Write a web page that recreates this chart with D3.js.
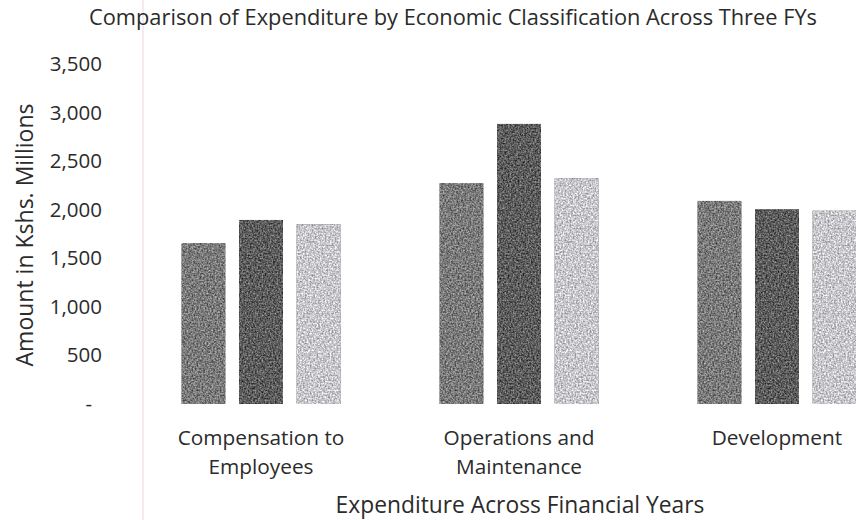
<!DOCTYPE html>
<html>
<head>
<meta charset="utf-8">
<script src="https://cdn.jsdelivr.net/npm/d3@7"></script>
<style>
  body { margin: 0; background: #fff; }
  text { font-family: "Open Sans", "Noto Sans", sans-serif; fill: #2b2b2b; }
</style>
</head>
<body>
<div id="app"></div>
<script>
const categories = ['Compensation to Employees', 'Operations and Maintenance', 'Development'];
const years = ['FY 1', 'FY 2', 'FY 3'];
const fy1 = [1655, 2273, 2091];
const fy2 = [1895, 2884, 2005];
const fy3 = [1851, 2324, 1991];
const yTicks = [0, 500, 1000, 1500, 2000, 2500, 3000, 3500];

function render() {
  const width = 856;
  const height = 520;
  const margin = { left: 132, top: 64 };
  const groupWidth = 258;
  const colors = ['#7a7a7a', '#5c5c5c', '#c8c8cc'];

  const svg = d3.select('#app').append('svg').attr('width', width).attr('height', height);

  // grainy scanned look
  const f = svg.append('defs').append('filter').attr('id', 'grain')
    .attr('x', 0).attr('y', 0).attr('width', 1).attr('height', 1)
    .attr('color-interpolation-filters', 'sRGB');
  f.append('feTurbulence').attr('type', 'fractalNoise').attr('baseFrequency', 0.6)
    .attr('numOctaves', 2).attr('seed', 3).attr('result', 'noise');
  f.append('feColorMatrix').attr('in', 'noise').attr('type', 'matrix')
    .attr('values', '1 0 0 0 0  1 0 0 0 0  1 0 0 0 0  0 0 0 0 1').attr('result', 'gn');
  f.append('feComposite').attr('in', 'SourceGraphic').attr('in2', 'gn').attr('operator', 'arithmetic')
    .attr('k1', 0).attr('k2', 1).attr('k3', 0.75).attr('k4', -0.375).attr('result', 'mix');
  f.append('feComposite').attr('in', 'mix').attr('in2', 'SourceGraphic').attr('operator', 'in');

  // faint scan line
  svg.append('line').attr('x1', 143).attr('x2', 143).attr('y1', 0).attr('y2', height)
    .attr('stroke', '#f2dbe6').attr('stroke-width', 1.2);

  const x0 = d3.scaleBand(categories, [margin.left, margin.left + groupWidth * 3]);
  const x1 = d3.scaleBand(years, [0, groupWidth]).paddingInner(0.235).paddingOuter(0.86);
  const y = d3.scaleLinear([0, 3500], [404, margin.top]);

  const rows = categories.map((c, i) => ({ cat: c, vals: [fy1[i], fy2[i], fy3[i]] }));

  const groups = svg.selectAll('g.grp').data(rows).join('g')
    .attr('class', 'grp')
    .attr('transform', d => `translate(${x0(d.cat)},0)`);

  groups.selectAll('rect').data(d => d.vals.map((v, j) => ({ year: years[j], v, j }))).join('rect')
    .attr('x', d => x1(d.year))
    .attr('width', x1.bandwidth())
    .attr('y', d => y(d.v))
    .attr('height', d => y(0) - y(d.v))
    .attr('fill', d => colors[d.j])
    .attr('filter', 'url(#grain)');

  // y axis
  const yAxis = d3.axisLeft(y).tickValues(yTicks).tickSize(0).tickPadding(0)
    .tickFormat(d => d === 0 ? '-' : d3.format(',')(d));
  const ya = svg.append('g').attr('transform', 'translate(102,0)').call(yAxis);
  ya.select('.domain').remove();
  ya.selectAll('text').style('font-size', '20.5px').style('font-family', '"Open Sans", sans-serif').attr('fill', '#2b2b2b')
    .attr('dx', d => d === 0 ? -10 : 0);

  // category labels
  const labelLines = {
    'Compensation to Employees': ['Compensation to', 'Employees'],
    'Operations and Maintenance': ['Operations and', 'Maintenance'],
    'Development': ['Development']
  };
  svg.selectAll('text.cat').data(categories).join('text')
    .attr('class', 'cat')
    .attr('text-anchor', 'middle')
    .attr('x', d => x0(d) + x0.bandwidth() / 2)
    .attr('y', 445)
    .style('font-size', '20.8px')
    .selectAll('tspan').data(d => labelLines[d]).join('tspan')
    .attr('x', function () { return d3.select(this.parentNode).attr('x'); })
    .attr('dy', (d, i) => i === 0 ? 0 : 29)
    .text(d => d);

  // axis titles
  svg.append('text').attr('x', 520).attr('y', 513).attr('text-anchor', 'middle')
    .style('font-size', '22.8px').text('Expenditure Across Financial Years');
  svg.append('text').attr('transform', 'translate(33,235) rotate(-90)').attr('text-anchor', 'middle')
    .style('font-size', '23px').text('Amount in Kshs. Millions');

  // title
  svg.append('text').attr('x', 453).attr('y', 25).attr('text-anchor', 'middle')
    .style('font-size', '21.8px').text('Comparison of Expenditure by Economic Classification Across Three FYs');
}

render();
</script>
</body>
</html>
